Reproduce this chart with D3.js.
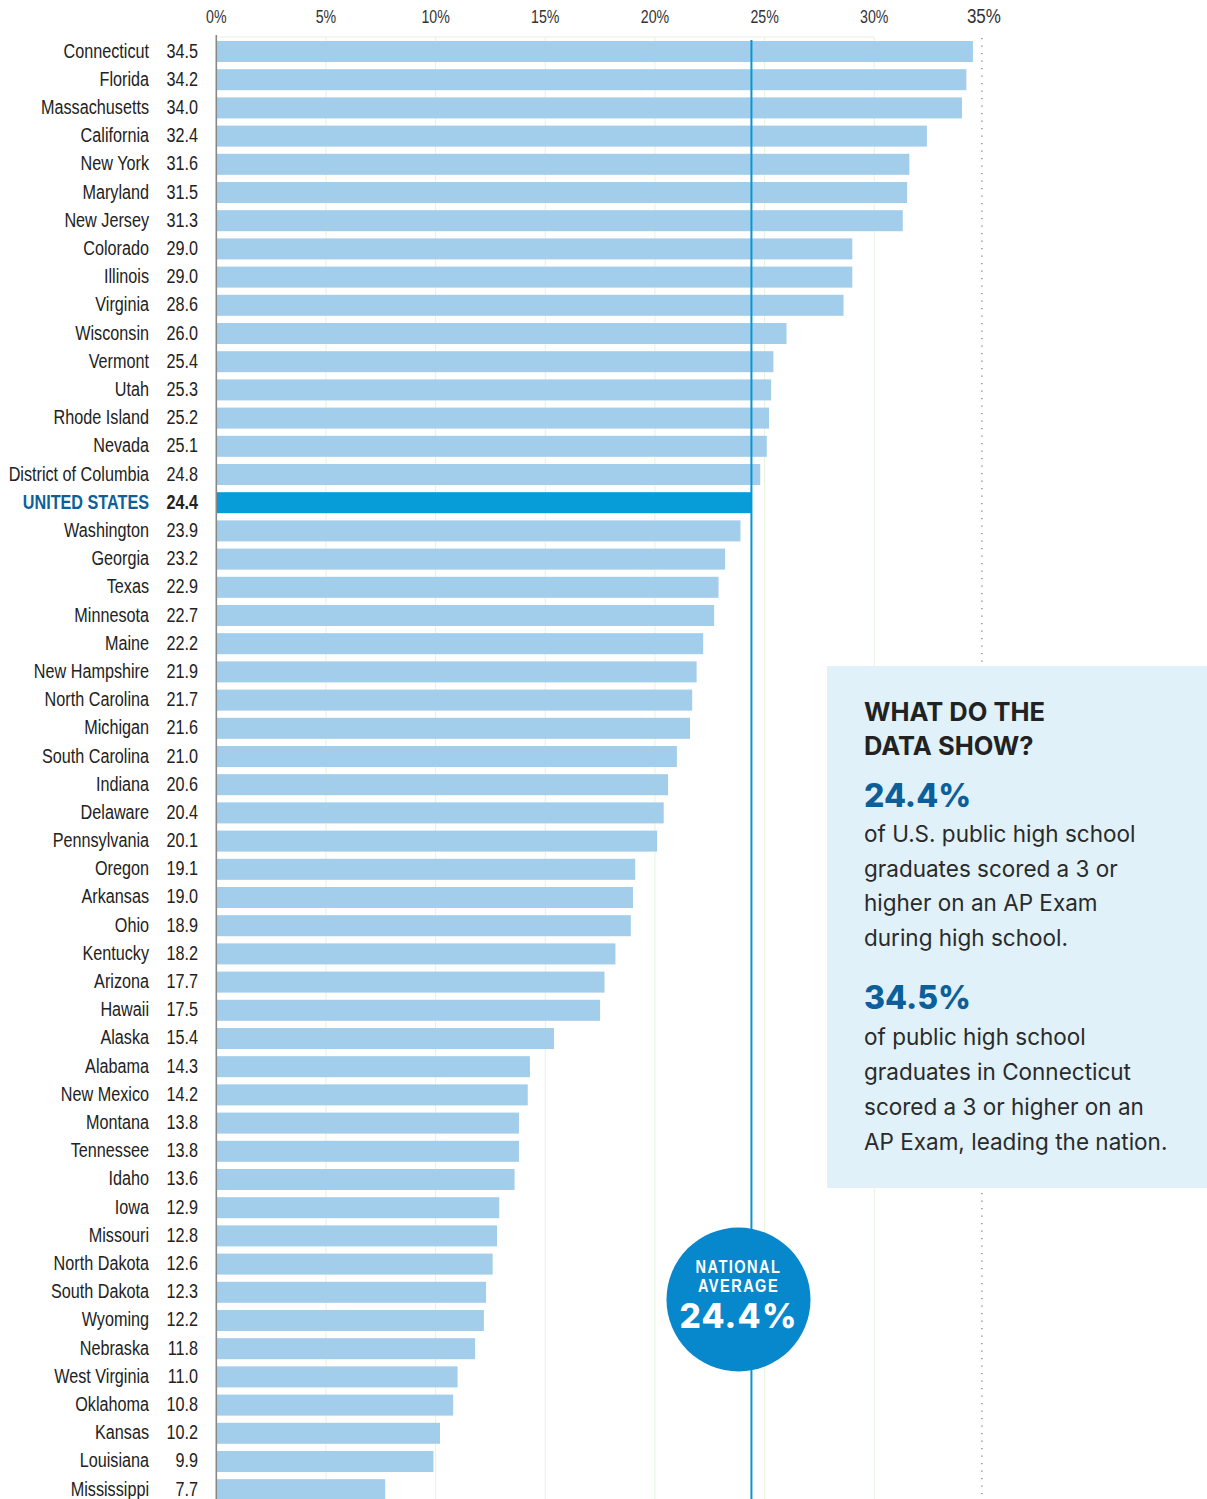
<!DOCTYPE html>
<html>
<head>
<meta charset="utf-8">
<script src="https://cdn.jsdelivr.net/npm/d3@7"></script>
<style>
  body { margin: 0; background: #fff; }
  .cond { font-family: "Liberation Sans", Arial, sans-serif; }
  .body { font-family: Inter, "Noto Sans", sans-serif; }
</style>
</head>
<body>
<div id="container"></div>
<script>
var states = ["Connecticut", "Florida", "Massachusetts", "California", "New York", "Maryland",
  "New Jersey", "Colorado", "Illinois", "Virginia", "Wisconsin", "Vermont", "Utah",
  "Rhode Island", "Nevada", "District of Columbia", "UNITED STATES", "Washington", "Georgia",
  "Texas", "Minnesota", "Maine", "New Hampshire", "North Carolina", "Michigan",
  "South Carolina", "Indiana", "Delaware", "Pennsylvania", "Oregon", "Arkansas", "Ohio",
  "Kentucky", "Arizona", "Hawaii", "Alaska", "Alabama", "New Mexico", "Montana",
  "Tennessee", "Idaho", "Iowa", "Missouri", "North Dakota", "South Dakota", "Wyoming",
  "Nebraska", "West Virginia", "Oklahoma", "Kansas", "Louisiana", "Mississippi"];

var values = [34.5, 34.2, 34.0, 32.4, 31.6, 31.5, 31.3, 29.0, 29.0, 28.6, 26.0, 25.4, 25.3,
  25.2, 25.1, 24.8, 24.4, 23.9, 23.2, 22.9, 22.7, 22.2, 21.9, 21.7, 21.6, 21.0, 20.6, 20.4,
  20.1, 19.1, 19.0, 18.9, 18.2, 17.7, 17.5, 15.4, 14.3, 14.2, 13.8, 13.8, 13.6, 12.9, 12.8,
  12.6, 12.3, 12.2, 11.8, 11.0, 10.8, 10.2, 9.9, 7.7];

var nationName = "UNITED STATES";
var nationalAvg = 24.4;
var leader = "Connecticut";
var leaderValue = 34.5;
var tickValues = [0, 5, 10, 15, 20, 25, 30, 35];

var width = 1207, height = 1499;
var squeeze = 0.81; // fake a condensed face

var svg = d3.select("#container").append("svg")
  .attr("width", width)
  .attr("height", height);

var x = d3.scaleLinear().domain([0, 35]).range([216.3, 983.9]);
var y = d3.scaleBand().domain(states).range([41, 1500.2]).paddingInner(0.255).paddingOuter(0);

function condText(sel, px, py) {
  return sel.attr("class", "cond")
    .attr("transform", function (d, i) {
      return "translate(" + px(d, i) + "," + py(d, i) + ") scale(" + squeeze + ",1)";
    });
}

// light grid
svg.append("g").selectAll("line")
  .data(tickValues.slice(1, -1))
  .enter().append("line")
  .attr("x1", function (d) { return x(d); })
  .attr("x2", function (d) { return x(d); })
  .attr("y1", 37).attr("y2", height)
  .attr("stroke", "#e6f2df").attr("stroke-width", 1);
svg.append("line")
  .attr("x1", x(0)).attr("x2", x(30)).attr("y1", 37).attr("y2", 37)
  .attr("stroke", "#e6f2df");

// dotted line near 35%
svg.append("line")
  .attr("x1", x(35) - 2).attr("x2", x(35) - 2).attr("y1", 38).attr("y2", height)
  .attr("stroke", "#777").attr("stroke-width", 1.2).attr("stroke-dasharray", "1.2,6.3");

// tick labels
svg.append("g").selectAll("text")
  .data(tickValues)
  .enter().append("text")
  .call(condText, function (d) { return x(d); }, function () { return 23; })
  .attr("text-anchor", "middle")
  .attr("font-size", function (d) { return d === 35 ? 21 : 17.5; })
  .attr("fill", "#333")
  .text(function (d) { return d + "%"; });

// bars
svg.append("g").selectAll("rect")
  .data(states)
  .enter().append("rect")
  .attr("x", x(0))
  .attr("y", function (d) { return y(d); })
  .attr("width", function (d, i) { return x(values[i]) - x(0); })
  .attr("height", y.bandwidth())
  .attr("fill", function (d) { return d === nationName ? "#069dd8" : "#a2cdeb"; });

// axis line
svg.append("line")
  .attr("x1", x(0)).attr("x2", x(0)).attr("y1", 35).attr("y2", height)
  .attr("stroke", "#888").attr("stroke-width", 1.6);

function rowY(d) { return y(d) + y.bandwidth() / 2 + 6; }

// state labels
svg.append("g").selectAll("text")
  .data(states)
  .enter().append("text")
  .call(condText, function () { return 149; }, rowY)
  .attr("text-anchor", "end")
  .attr("font-size", 20)
  .attr("font-weight", function (d) { return d === nationName ? "bold" : "normal"; })
  .attr("fill", function (d) { return d === nationName ? "#0d5f9a" : "#222"; })
  .text(function (d) { return d; });

// value labels
svg.append("g").selectAll("text")
  .data(states)
  .enter().append("text")
  .call(condText, function () { return 198; }, rowY)
  .attr("text-anchor", "end")
  .attr("font-size", 20)
  .attr("font-weight", function (d) { return d === nationName ? "bold" : "normal"; })
  .attr("fill", "#222")
  .text(function (d, i) { return values[i].toFixed(1); });

// national average line
svg.append("line")
  .attr("x1", x(nationalAvg)).attr("x2", x(nationalAvg))
  .attr("y1", 40).attr("y2", height)
  .attr("stroke", "#0a96d6").attr("stroke-width", 2);

// national average badge
var badge = svg.append("g").attr("transform", "translate(738.5, 1299.5)");
badge.append("circle").attr("r", 72).attr("fill", "#0787cc");
badge.append("g").selectAll("text")
  .data(["NATIONAL", "AVERAGE"])
  .enter().append("text")
  .call(condText, function () { return 0; }, function (d, i) { return -27 + i * 19.5; })
  .attr("text-anchor", "middle")
  .attr("font-size", 18).attr("font-weight", "bold").attr("letter-spacing", 1.8)
  .attr("fill", "#fff").text(function (d) { return d; });
badge.append("text")
  .attr("y", 28).attr("text-anchor", "middle")
  .attr("font-family", "Inter, 'DejaVu Sans', sans-serif")
  .attr("font-size", 33.5).attr("font-weight", 800).attr("letter-spacing", 1.2)
  .attr("fill", "#fff").text(nationalAvg + "%");

// callout box
var box = svg.append("g");
box.append("rect")
  .attr("x", 827).attr("y", 666).attr("width", width - 827).attr("height", 522)
  .attr("fill", "#e0f1f9");

box.selectAll("text.title")
  .data(["WHAT DO THE", "DATA SHOW?"])
  .enter().append("text")
  .attr("class", "body")
  .attr("x", 864)
  .attr("y", function (d, i) { return 721 + i * 34; })
  .attr("font-size", 25.5).attr("font-weight", "bold").attr("fill", "#222")
  .text(function (d) { return d; });

box.append("text").attr("class", "body")
  .attr("x", 864).attr("y", 807)
  .attr("font-size", 32).attr("font-weight", 800).attr("fill", "#0d5f9a")
  .text(nationalAvg + "%");

var body1 = ["of U.S. public high school", "graduates scored a 3 or",
  "higher on an AP Exam", "during high school."];
box.selectAll("text.b1")
  .data(body1)
  .enter().append("text")
  .attr("class", "body")
  .attr("x", 864)
  .attr("y", function (d, i) { return 842 + i * 34.7; })
  .attr("font-size", 22.5).attr("fill", "#2a2a2a")
  .text(function (d) { return d; });

box.append("text").attr("class", "body")
  .attr("x", 864).attr("y", 1009)
  .attr("font-size", 32).attr("font-weight", 800).attr("fill", "#0d5f9a")
  .text(leaderValue + "%");

var body2 = ["of public high school", "graduates in " + leader,
  "scored a 3 or higher on an", "AP Exam, leading the nation."];
box.selectAll("text.b2")
  .data(body2)
  .enter().append("text")
  .attr("class", "body")
  .attr("x", 864)
  .attr("y", function (d, i) { return 1045 + i * 35; })
  .attr("font-size", 22.5).attr("fill", "#2a2a2a")
  .text(function (d) { return d; });
</script>
</body>
</html>
